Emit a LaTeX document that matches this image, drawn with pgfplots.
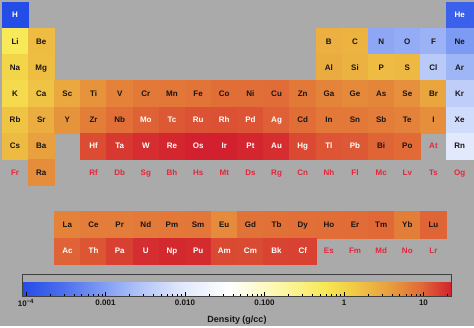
\documentclass[border=0pt]{standalone}
\usepackage{pgfplots}
\pgfplotsset{compat=1.18}
\usepackage{fontspec}
\setmainfont{Liberation Sans}
\definecolor{bg}{RGB}{170,170,170}
\definecolor{nodata}{RGB}{228,38,58}
\definecolor{darktext}{RGB}{25,20,20}
\newcommand{\symfont}{\fontsize{8}{9}\selectfont\bfseries}
\tikzset{symlabel/.style={anchor=center, text height=5.8pt, text depth=0pt, inner sep=0pt, font=\symfont}}
\begin{document}
\begin{tikzpicture}
\begin{axis}[
  scale only axis, width=474pt, height=326pt,
  xmin=0.4235, xmax=18.550, ymin=0.4237, ymax=12.867, y dir=reverse,
  axis line style={draw=none},
  xtick=\empty, ytick=\empty,
  axis background/.style={fill=bg},
  clip=false,
  colormap={density}{
    rgb255(0pt)=(36,76,230);
    rgb255(5pt)=(75,110,238);
    rgb255(10pt)=(125,155,243);
    rgb255(15pt)=(180,198,248);
    rgb255(20pt)=(225,232,252);
    rgb255(26pt)=(255,255,255);
    rgb255(33pt)=(252,246,160);
    rgb255(38pt)=(248,232,85);
    rgb255(41pt)=(242,208,70);
    rgb255(46pt)=(232,160,62);
    rgb255(50pt)=(225,108,55);
    rgb255(54pt)=(210,32,46)
  },
  point meta min=-4.046, point meta max=1.355,
  colorbar horizontal,
  colorbar style={
    scale only axis,
    width=429.4pt, height=21.6pt,
    at={(parent axis.south west)}, anchor=south west,
    xshift=22.3pt, yshift=38.3pt,
    xtick={-4,-3,-2,-1,0,1},
    xticklabels={10\textsuperscript{−4},0.001,0.010,0.100,1,10},
    minor xtick={-3.69897,-3.52288,-3.39794,-3.30103,-3.22185,-3.15490,-3.09691,-3.04576,
      -2.69897,-2.52288,-2.39794,-2.30103,-2.22185,-2.15490,-2.09691,-2.04576,
      -1.69897,-1.52288,-1.39794,-1.30103,-1.22185,-1.15490,-1.09691,-1.04576,
      -0.69897,-0.52288,-0.39794,-0.30103,-0.22185,-0.15490,-0.09691,-0.04576,
      0.30103,0.47712,0.60206,0.69897,0.77815,0.84510,0.90309,0.95424,1.30103},
    xtick pos=left, tick align=inside,
    major tick length=4.5pt, minor tick length=2.5pt,
    tick style={black, line width=0.5pt},
    xticklabel style={font=\symfont, text=darktext},
    xlabel={Density (g/cc)},
    xlabel style={font=\fontsize{9}{10}\selectfont\bfseries, text=darktext, yshift=-2pt},
    axis line style={draw=black!75, line width=0.6pt},
  },
]
% coloured cells (elements with a density)
\addplot[scatter, only marks, mark=square*, mark size=13.1pt,
  scatter/use mapped color={draw=mapped color, fill=mapped color},
  point meta={ln(\thisrow{d})/ln(10)},
] table[x=c, y=r] {
c r d
1 1 0.0000899
18 1 0.0001785
1 2 0.535
2 2 1.848
13 2 2.46
14 2 2.26
15 2 0.001251
16 2 0.001429
17 2 0.001696
18 2 0.0009
1 3 0.968
2 3 1.738
13 3 2.70
14 3 2.33
15 3 1.823
16 3 1.96
17 3 0.003214
18 3 0.001784
1 4 0.856
2 4 1.55
3 4 2.985
4 4 4.507
5 4 6.11
6 4 7.19
7 4 7.47
8 4 7.874
9 4 8.90
10 4 8.908
11 4 8.96
12 4 7.14
13 4 5.904
14 4 5.323
15 4 5.727
16 4 4.819
17 4 3.12
18 4 0.00375
1 5 1.532
2 5 2.63
3 5 4.472
4 5 6.511
5 5 8.57
6 5 10.28
7 5 11.5
8 5 12.37
9 5 12.45
10 5 12.023
11 5 10.49
12 5 8.65
13 5 7.31
14 5 7.31
15 5 6.697
16 5 6.24
17 5 4.94
18 5 0.0059
1 6 1.879
2 6 3.51
4 6 13.31
5 6 16.65
6 6 19.25
7 6 21.02
8 6 22.61
9 6 22.65
10 6 21.09
11 6 19.3
12 6 13.534
13 6 11.85
14 6 11.34
15 6 9.78
16 6 9.196
18 6 0.00973
2 7 5.0
3 9 6.146
4 9 6.689
5 9 6.64
6 9 7.01
7 9 7.264
8 9 7.353
9 9 5.244
10 9 7.901
11 9 8.219
12 9 8.551
13 9 8.795
14 9 9.066
15 9 9.321
16 9 6.57
17 9 9.841
3 10 10.07
4 10 11.724
5 10 15.37
6 10 19.05
7 10 20.45
8 10 19.816
9 10 13.67
10 10 13.51
11 10 14.78
12 10 15.1
};
% symbols in dark text
\addplot[only marks, mark=none,
  visualization depends on={value \thisrow{s}\as\sym},
  nodes near coords={\sym},
  nodes near coords style={symlabel, text=darktext},
] table[x=c, y=r] {
c r s
1 2 Li
2 2 Be
13 2 B
14 2 C
15 2 N
16 2 O
17 2 F
18 2 Ne
1 3 Na
2 3 Mg
13 3 Al
14 3 Si
15 3 P
16 3 S
17 3 Cl
18 3 Ar
1 4 K
2 4 Ca
3 4 Sc
4 4 Ti
5 4 V
6 4 Cr
7 4 Mn
8 4 Fe
9 4 Co
10 4 Ni
11 4 Cu
12 4 Zn
13 4 Ga
14 4 Ge
15 4 As
16 4 Se
17 4 Br
18 4 Kr
1 5 Rb
2 5 Sr
3 5 Y
4 5 Zr
5 5 Nb
12 5 Cd
13 5 In
14 5 Sn
15 5 Sb
16 5 Te
17 5 I
18 5 Xe
1 6 Cs
2 6 Ba
15 6 Bi
16 6 Po
18 6 Rn
2 7 Ra
3 9 La
4 9 Ce
5 9 Pr
6 9 Nd
7 9 Pm
8 9 Sm
9 9 Eu
10 9 Gd
11 9 Tb
12 9 Dy
13 9 Ho
14 9 Er
15 9 Tm
16 9 Yb
17 9 Lu
};
% symbols in white text
\addplot[only marks, mark=none,
  visualization depends on={value \thisrow{s}\as\sym},
  nodes near coords={\sym},
  nodes near coords style={symlabel, text=white},
] table[x=c, y=r] {
c r s
1 1 H
18 1 He
6 5 Mo
7 5 Tc
8 5 Ru
9 5 Rh
10 5 Pd
11 5 Ag
4 6 Hf
5 6 Ta
6 6 W
7 6 Re
8 6 Os
9 6 Ir
10 6 Pt
11 6 Au
12 6 Hg
13 6 Tl
14 6 Pb
3 10 Ac
4 10 Th
5 10 Pa
6 10 U
7 10 Np
8 10 Pu
9 10 Am
10 10 Cm
11 10 Bk
12 10 Cf
};
% elements without data
\addplot[only marks, mark=none,
  visualization depends on={value \thisrow{s}\as\sym},
  nodes near coords={\sym},
  nodes near coords style={symlabel, text=nodata},
] table[x=c, y=r] {
c r s
17 6 At
1 7 Fr
4 7 Rf
5 7 Db
6 7 Sg
7 7 Bh
8 7 Hs
9 7 Mt
10 7 Ds
11 7 Rg
12 7 Cn
13 7 Nh
14 7 Fl
15 7 Mc
16 7 Lv
17 7 Ts
18 7 Og
13 10 Es
14 10 Fm
15 10 Md
16 10 No
17 10 Lr
};
\end{axis}
\end{tikzpicture}
\end{document}
